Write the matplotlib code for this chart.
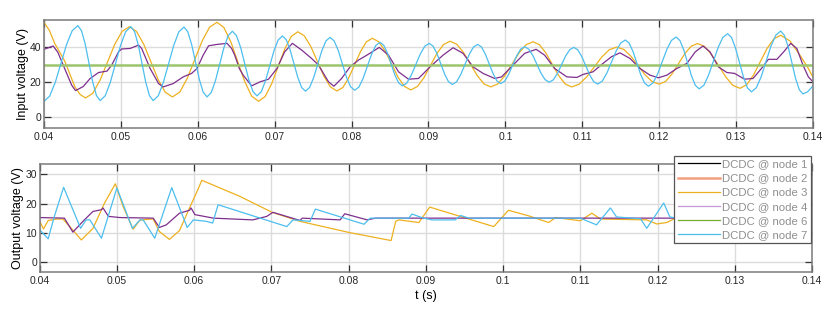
import numpy as np
import matplotlib
matplotlib.use("Agg")
import matplotlib.pyplot as plt
from matplotlib.lines import Line2D

plt.rcParams['font.family'] = ['Liberation Sans', 'DejaVu Sans']

# ---- input voltage (top) ----
t_in3 = [0.0400, 0.0407, 0.0414, 0.0427, 0.0440, 0.0447, 0.0454,
         0.04635, 0.0473, 0.0492, 0.05015, 0.0511,
         0.05203, 0.05297, 0.05483, 0.05577, 0.0567,
         0.05767, 0.05863, 0.06057, 0.06153, 0.0625,
         0.0634, 0.0643, 0.0661, 0.0670, 0.0679,
         0.06875, 0.0696, 0.0713, 0.07215, 0.0730,
         0.07385, 0.0747, 0.0764, 0.07725, 0.0781,
         0.07887, 0.07963, 0.08117, 0.08193, 0.0827,
         0.08353, 0.08437, 0.08603, 0.08687, 0.0877,
         0.08855, 0.0894, 0.0911, 0.09195, 0.0928,
         0.09368, 0.09457, 0.09633, 0.09722, 0.0981,
         0.09902, 0.09993, 0.10177, 0.10268, 0.1036,
         0.10443, 0.10527, 0.10693, 0.10777, 0.1086,
         0.10958, 0.11057, 0.11253, 0.11352, 0.1145,
         0.11542, 0.11633, 0.11817, 0.11908, 0.1200,
         0.12083, 0.12167, 0.12333, 0.12417, 0.1250,
         0.12592, 0.12683, 0.12867, 0.12958, 0.1305,
         0.13138, 0.13227, 0.13403, 0.13492, 0.1358,
         0.1370, 0.1383, 0.1394, 0.1400]
v_in3 = [54.1, 49.5, 42.0, 32.0, 17.5, 13.0, 11.0,
         13.7, 21.2, 41.5, 48.9, 51.6,
         48.9, 41.6, 21.6, 14.3, 11.6,
         14.4, 22.2, 43.5, 51.3, 54.1,
         51.1, 42.9, 20.4, 12.1, 9.1,
         11.8, 19.0, 38.8, 46.0, 48.7,
         46.4, 40.3, 23.4, 17.3, 15.0,
         17.0, 22.5, 37.5, 43.0, 45.0,
         43.0, 37.7, 22.9, 17.6, 15.6,
         17.5, 22.5, 36.4, 41.4, 43.3,
         41.6, 36.8, 23.8, 19.0, 17.3,
         19.0, 23.7, 36.6, 41.3, 43.0,
         41.3, 36.6, 23.7, 19.0, 17.3,
         18.8, 23.0, 34.3, 38.5, 40.0,
         38.6, 34.7, 24.2, 20.3, 18.9,
         20.4, 24.7, 36.2, 40.5, 42.0,
         40.3, 35.6, 22.9, 18.2, 16.5,
         18.5, 24.1, 39.2, 44.7, 46.7,
         43.5, 35.4, 27.8, 22.8]

t_in4 = [0.0400, 0.0412, 0.0418, 0.0425, 0.0436, 0.0441, 0.0451, 0.0460, 0.0471, 0.0482,
         0.0488, 0.0497, 0.0501, 0.0512, 0.0523, 0.0527, 0.0538, 0.0549, 0.0555, 0.0568,
         0.0581, 0.0592, 0.0599, 0.0607, 0.0614, 0.0625, 0.0638, 0.0644, 0.0648, 0.0654,
         0.0659, 0.0670, 0.0681, 0.0692, 0.0703, 0.0713, 0.0723, 0.0735, 0.0748, 0.0757,
         0.0770, 0.0777, 0.0787, 0.0798, 0.0809, 0.0820, 0.0836, 0.0848, 0.0861, 0.0874,
         0.0887, 0.0902, 0.0919, 0.0932, 0.0945, 0.0958, 0.0971, 0.0986, 0.0995, 0.1010,
         0.1025, 0.1040, 0.1051, 0.1064, 0.1080, 0.1093, 0.1101, 0.1114, 0.1127, 0.1138,
         0.1149, 0.1162, 0.1175, 0.1188, 0.1199, 0.1210, 0.1223, 0.1236, 0.1247, 0.1257,
         0.1266, 0.1277, 0.1288, 0.1298, 0.1311, 0.1322, 0.1333, 0.1342, 0.1353, 0.1362,
         0.1371, 0.1379, 0.1387, 0.1394, 0.1400]
v_in4 = [38.7, 40.6, 37.0, 29.7, 18.3, 15.2, 17.5, 22.1, 25.5, 26.3,
         29.7, 37.3, 38.9, 39.2, 41.1, 39.2, 27.8, 19.2, 17.3, 19.2,
         23.0, 25.0, 27.8, 35.4, 40.7, 41.5, 42.1, 39.2, 35.4, 27.8,
         24.0, 17.9, 20.2, 21.7, 27.8, 37.3, 42.1, 38.3, 33.5, 29.7,
         20.2, 17.7, 22.1, 28.7, 32.6, 35.4, 39.8, 35.4, 25.9, 21.7,
         22.1, 28.7, 35.4, 39.6, 36.4, 28.7, 25.0, 22.1, 23.0, 29.7,
         36.4, 38.7, 35.4, 27.8, 23.0, 22.7, 24.4, 25.9, 30.7, 34.5,
         36.7, 33.5, 27.8, 24.0, 22.5, 24.0, 27.8, 30.7, 37.3, 40.6,
         37.3, 28.7, 25.5, 25.0, 21.7, 22.1, 27.8, 33.0, 33.0, 37.3,
         42.1, 39.2, 29.7, 23.0, 20.2]

t_in6 = [0.04, 0.14]
v_in6 = [30.0, 30.0]

t_in7 = [0.0400, 0.04073, 0.04147, 0.04293, 0.04367, 0.0444,
         0.04488, 0.04537, 0.04633, 0.04682, 0.0473,
         0.04797, 0.04863, 0.04997, 0.05063, 0.0513,
         0.05178, 0.05227, 0.05323, 0.05372, 0.0542,
         0.05487, 0.05553, 0.05687, 0.05753, 0.0582,
         0.0587, 0.0592, 0.0602, 0.0607, 0.0612,
         0.06175, 0.0623, 0.0634, 0.06395, 0.0645,
         0.06503, 0.06557, 0.06663, 0.06717, 0.0677,
         0.06825, 0.0688, 0.0699, 0.07045, 0.0710,
         0.0715, 0.0720, 0.0730, 0.0735, 0.0740,
         0.07453, 0.07507, 0.07613, 0.07667, 0.0772,
         0.07773, 0.07827, 0.07933, 0.07987, 0.0804,
         0.08095, 0.0815, 0.0826, 0.08315, 0.0837,
         0.08418, 0.08467, 0.08563, 0.08612, 0.0866,
         0.08718, 0.08777, 0.08893, 0.08952, 0.0901,
         0.0906, 0.0911, 0.0921, 0.0926, 0.0931,
         0.09365, 0.0942, 0.0953, 0.09585, 0.0964,
         0.0969, 0.0974, 0.0984, 0.0989, 0.0994,
         0.09992, 0.10043, 0.10147, 0.10198, 0.1025,
         0.10303, 0.10357, 0.10463, 0.10517, 0.1057,
         0.10623, 0.10677, 0.10783, 0.10837, 0.1089,
         0.10942, 0.10993, 0.11097, 0.11148, 0.1120,
         0.1126, 0.1132, 0.1144, 0.1150, 0.1156,
         0.1161, 0.1166, 0.1176, 0.1181, 0.1186,
         0.1192, 0.1198, 0.1210, 0.1216, 0.1222,
         0.1227, 0.1232, 0.1242, 0.1247, 0.1252,
         0.12582, 0.12643, 0.12767, 0.12828, 0.1289,
         0.12942, 0.12993, 0.13097, 0.13148, 0.1320,
         0.13263, 0.13327, 0.13453, 0.13517, 0.1358,
         0.13628, 0.13677, 0.13773, 0.13822, 0.1387,
         0.1393, 0.1400]
v_in7 = [9.1, 12.0, 19.9, 41.4, 49.3, 52.2,
         49.3, 41.5, 20.2, 12.4, 9.5,
         12.3, 20.0, 41.1, 48.8, 51.6,
         48.8, 41.1, 20.0, 12.3, 9.5,
         12.3, 20.0, 40.9, 48.6, 51.4,
         48.7, 41.5, 21.6, 14.3, 11.6,
         14.1, 20.9, 39.7, 46.5, 49.0,
         46.5, 39.8, 21.4, 14.7, 12.2,
         14.5, 20.7, 37.8, 44.0, 46.3,
         44.2, 38.5, 22.8, 17.0, 14.9,
         16.9, 22.6, 37.9, 43.5, 45.5,
         43.5, 38.0, 22.9, 17.4, 15.4,
         17.2, 22.2, 35.9, 40.9, 42.7,
         41.0, 36.5, 24.1, 19.6, 17.9,
         19.5, 24.0, 36.0, 40.5, 42.1,
         40.5, 36.3, 24.6, 20.3, 18.7,
         20.2, 24.4, 35.8, 40.0, 41.5,
         40.0, 35.9, 24.8, 20.7, 19.2,
         20.6, 24.5, 35.0, 38.8, 40.2,
         38.8, 35.2, 25.1, 21.4, 20.0,
         21.3, 25.0, 34.9, 38.5, 39.8,
         38.4, 34.6, 24.1, 20.3, 18.9,
         20.6, 25.2, 37.7, 42.3, 44.0,
         42.2, 37.4, 24.3, 19.5, 17.7,
         19.6, 24.7, 38.7, 43.8, 45.7,
         43.7, 38.3, 23.6, 18.2, 16.2,
         18.3, 24.1, 39.8, 45.5, 47.6,
         45.4, 39.3, 22.8, 16.7, 14.5,
         16.8, 23.2, 40.5, 46.8, 49.1,
         46.7, 40.2, 22.2, 15.7, 13.3,
         14.5, 17.9]

# ---- output voltage (bottom) ----
t_out3 = [0.0400, 0.0405, 0.0411, 0.0422, 0.0430, 0.0441, 0.0454, 0.0469, 0.0484, 0.0498,
          0.0508, 0.0521, 0.0530, 0.0547, 0.0555, 0.0568, 0.0581, 0.0594, 0.0603, 0.0610,
          0.0659, 0.0701, 0.0737, 0.0801, 0.0855, 0.0861, 0.0865, 0.0891, 0.0905, 0.0947,
          0.0988, 0.1007, 0.1033, 0.1059, 0.1068, 0.1100, 0.1115, 0.1126, 0.1186, 0.1199,
          0.1212, 0.1221, 0.1226, 0.1235, 0.1400]
v_out3 = [13.9, 11.3, 14.2, 14.7, 14.7, 11.5, 7.5, 11.5, 20.2, 26.8,
          19.0, 11.2, 14.4, 14.7, 10.4, 7.7, 10.7, 18.5, 23.7, 28.0,
          22.5, 17.0, 13.9, 10.05, 7.3, 13.9, 14.4, 13.5, 18.8, 15.4,
          12.1, 17.7, 15.8, 13.5, 15.2, 14.1, 16.7, 14.7, 14.4, 13.0,
          13.5, 14.7, 16.0, 15.0, 15.0]

t_out4 = [0.0400, 0.0432, 0.0443, 0.0456, 0.0469, 0.0480, 0.0482, 0.0489, 0.0504, 0.0547,
          0.0555, 0.0564, 0.0581, 0.0594, 0.0596, 0.0601, 0.0625, 0.0676, 0.0694, 0.0702,
          0.0737, 0.0740, 0.0789, 0.0795, 0.0824, 0.0835, 0.1400]
v_out4 = [15.2, 15.0, 10.2, 13.9, 17.3, 17.9, 18.5, 15.6, 15.2, 15.0,
          11.8, 12.7, 16.7, 17.7, 18.5, 16.2, 15.0, 14.4, 15.6, 17.0,
          14.2, 15.0, 14.4, 16.5, 14.4, 15.0, 15.0]

t_out7 = [0.0400, 0.0411, 0.0419, 0.0431, 0.0453, 0.0460, 0.0465, 0.0480, 0.0500, 0.0520,
          0.0530, 0.0534, 0.0549, 0.0571, 0.0591, 0.0599, 0.0616, 0.0624, 0.0631, 0.0720,
          0.0728, 0.0737, 0.0750, 0.0757, 0.0820, 0.0828, 0.0878, 0.0882, 0.0897, 0.0908,
          0.0938, 0.0945, 0.0956, 0.1100, 0.1121, 0.1139, 0.1147, 0.1178, 0.1186, 0.1208,
          0.1216, 0.1225, 0.1400]
v_out7 = [11.0, 7.9, 15.6, 25.6, 11.5, 14.4, 14.4, 8.1, 25.4, 11.5,
          14.4, 14.4, 8.1, 25.5, 11.8, 14.4, 13.9, 13.3, 19.6, 12.1,
          14.4, 14.2, 13.9, 18.1, 12.9, 15.0, 15.0, 16.4, 15.0, 14.4,
          14.4, 15.9, 15.0, 15.0, 12.7, 18.5, 15.4, 14.8, 11.5, 20.2,
          15.4, 15.0, 15.0]

xticks = [0.04, 0.05, 0.06, 0.07, 0.08, 0.09, 0.1, 0.11, 0.12, 0.13, 0.14]
xticklabels = ['0.04', '0.05', '0.06', '0.07', '0.08', '0.09', '0.1', '0.11', '0.12', '0.13', '0.14']
legend_labels = ['DCDC @ node 1', 'DCDC @ node 2', 'DCDC @ node 3',
                 'DCDC @ node 4', 'DCDC @ node 6', 'DCDC @ node 7']

c_yel = '#EDB120'
c_pur = '#7E2F8E'
c_cya = '#4DBEEE'
c_grn = '#9CC46C'


def style(ax):
    ax.set_xlim(0.04, 0.14)
    ax.set_xticks(xticks)
    ax.set_xticklabels(xticklabels)
    ax.grid(True, color='#dcdcdc', lw=1.0)
    ax.set_axisbelow(True)
    ax.tick_params(direction='in', length=5, width=0.9, color='#333333',
                   top=True, right=True, labelsize=7.5, labelcolor='#262626')
    ax.tick_params(axis='x', pad=3)
    ax.tick_params(axis='y', pad=1.8)
    for s in ax.spines.values():
        s.set_color('#7a7a7a')
        s.set_linewidth(1.1)


fig = plt.figure(figsize=(8.30, 3.11), dpi=100)
ax1 = fig.add_axes([0.0530, 0.5884, 0.9265, 0.3473])
ax2 = fig.add_axes([0.0478, 0.1254, 0.9305, 0.3473])

ax1.plot(t_in3, v_in3, color=c_yel, lw=0.9)
ax1.plot(t_in4, v_in4, color=c_pur, lw=0.9)
ax1.plot(t_in6, v_in6, color=c_grn, lw=1.8)
ax1.plot(t_in7, v_in7, color=c_cya, lw=0.9)
ax1.set_ylim(-6.1, 55.4)
ax1.set_yticks([0, 20, 40])
ax1.set_ylabel('Input voltage (V)', fontsize=9, labelpad=0.8)
style(ax1)

ax2.plot(t_out3, v_out3, color=c_yel, lw=0.9)
ax2.plot(t_out4, v_out4, color=c_pur, lw=0.9)
ax2.plot(t_out7, v_out7, color=c_cya, lw=0.9)
ax2.set_ylim(-3.5, 33.6)
ax2.set_yticks([0, 10, 20, 30])
ax2.set_ylabel('Output voltage (V)', fontsize=9, labelpad=0.8)
ax2.set_xlabel('t (s)', fontsize=9, labelpad=3)
style(ax2)

handles = [Line2D([], [], color='black', lw=0.9),
           Line2D([], [], color='#F2A07E', lw=1.8),
           Line2D([], [], color=c_yel, lw=0.9),
           Line2D([], [], color='#C49AD6', lw=0.9),
           Line2D([], [], color='#77AC30', lw=0.9),
           Line2D([], [], color=c_cya, lw=0.9)]
leg = ax2.legend(handles, legend_labels, loc='upper right',
                 bbox_to_anchor=(811 / 830, 1 - 156 / 311), bbox_transform=fig.transFigure,
                 fontsize=8.2, frameon=True, fancybox=False, framealpha=1,
                 edgecolor='#555555', handlelength=3.7, handletextpad=0.2,
                 labelspacing=0.36, borderpad=0.3, borderaxespad=0)
leg.get_frame().set_linewidth(0.9)
for txt in leg.get_texts():
    txt.set_color('#8f8f8f')

fig.savefig('out.png', dpi=100)
